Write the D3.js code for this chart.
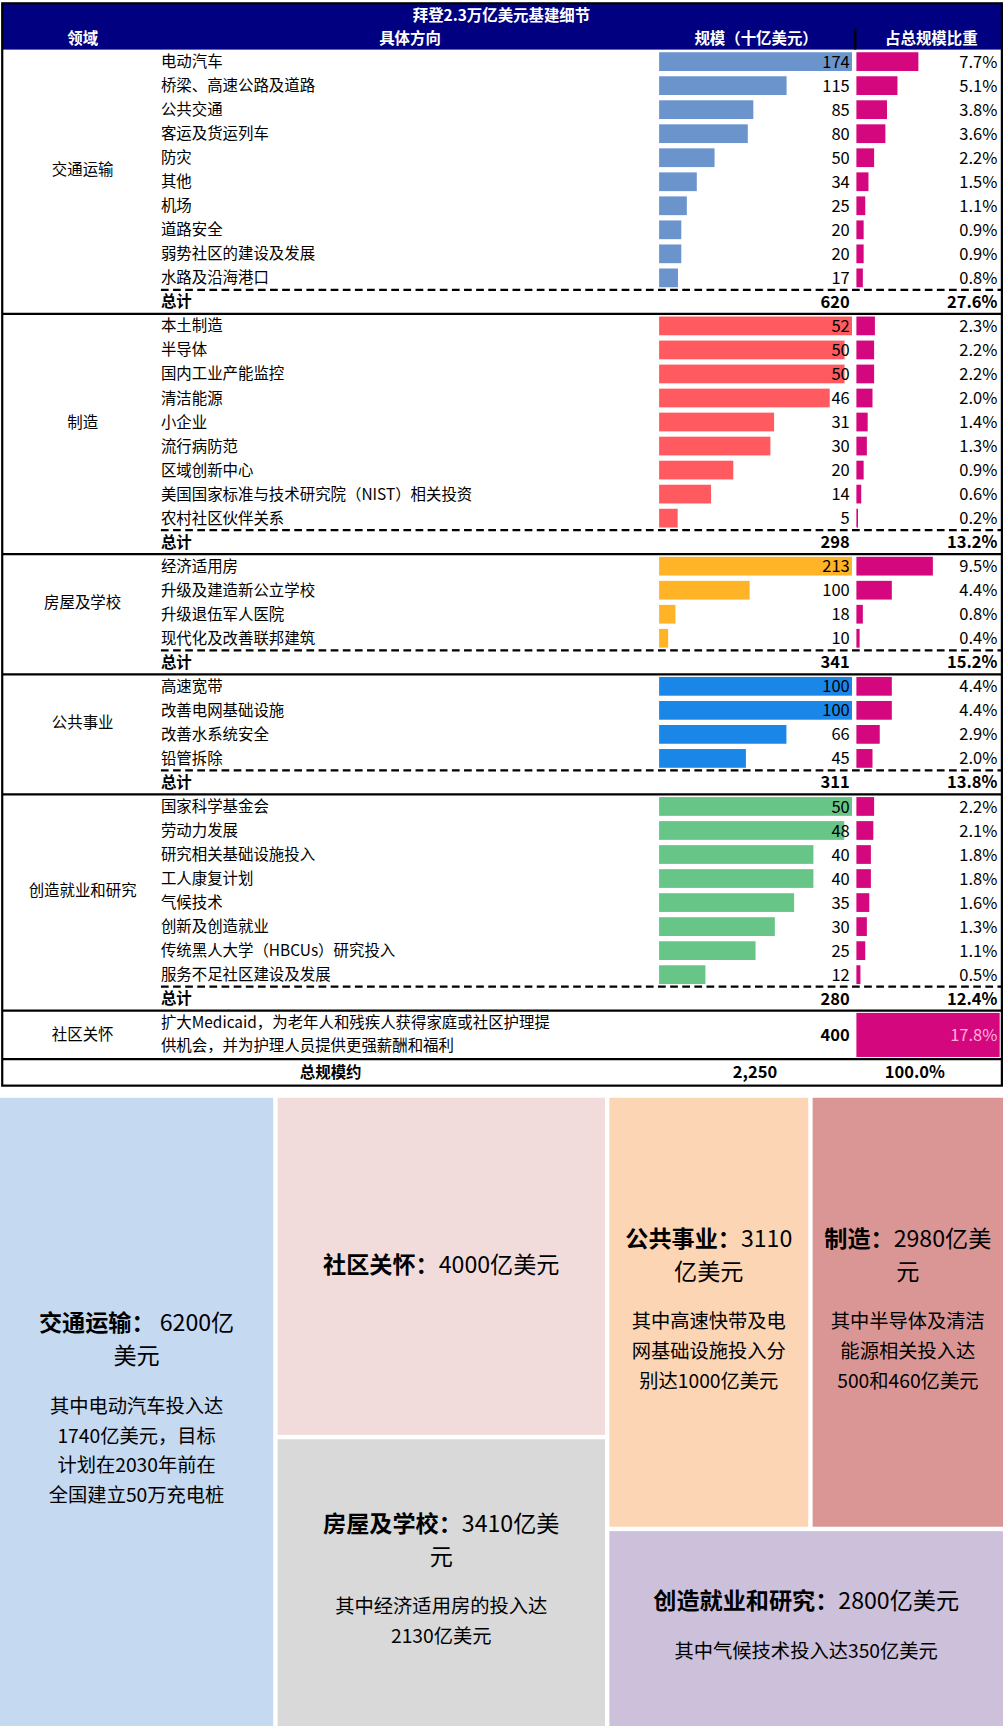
<!DOCTYPE html>
<html><head><meta charset="utf-8">
<script src="https://cdn.jsdelivr.net/npm/d3@7"></script>
<style>body{margin:0;background:#fff}svg text{font-family:"Noto Sans CJK SC","Liberation Sans",sans-serif}</style>
</head><body><svg id="chart" width="1003" height="1726" viewBox="0 0 910 1566"></svg>
<script>
// table data
const groupNames = ["交通运输", "制造", "房屋及学校", "公共事业", "创造就业和研究"];
const groupColors = ["#6b94cd", "#ff5a5f", "#ffb327", "#1a86e8", "#66c587"];
const groupItems = [
	["电动汽车", "桥梁、高速公路及道路", "公共交通", "客运及货运列车", "防灾", "其他", "机场", "道路安全", "弱势社区的建设及发展", "水路及沿海港口"],
	["本土制造", "半导体", "国内工业产能监控", "清洁能源", "小企业", "流行病防范", "区域创新中心", "美国国家标准与技术研究院（NIST）相关投资", "农村社区伙伴关系"],
	["经济适用房", "升级及建造新公立学校", "升级退伍军人医院", "现代化及改善联邦建筑"],
	["高速宽带", "改善电网基础设施", "改善水系统安全", "铅管拆除"],
	["国家科学基金会", "劳动力发展", "研究相关基础设施投入", "工人康复计划", "气候技术", "创新及创造就业", "传统黑人大学（HBCUs）研究投入", "服务不足社区建设及发展"],
];
const groupValues = [
	[174, 115, 85, 80, 50, 34, 25, 20, 20, 17],
	[52, 50, 50, 46, 31, 30, 20, 14, 5],
	[213, 100, 18, 10],
	[100, 100, 66, 45],
	[50, 48, 40, 40, 35, 30, 25, 12],
];
const groupPcts = [
	[7.7, 5.1, 3.8, 3.6, 2.2, 1.5, 1.1, 0.9, 0.9, 0.8],
	[2.3, 2.2, 2.2, 2.0, 1.4, 1.3, 0.9, 0.6, 0.2],
	[9.5, 4.4, 0.8, 0.4],
	[4.4, 4.4, 2.9, 2.0],
	[2.2, 2.1, 1.8, 1.8, 1.6, 1.3, 1.1, 0.5],
];
const groupTotals = ["620", "298", "341", "311", "280"];
const groupTotalPcts = ["27.6%", "13.2%", "15.2%", "13.8%", "12.4%"];
const careLines = ["扩大Medicaid，为老年人和残疾人获得家庭或社区护理提", "供机会，并为护理人员提供更强薪酬和福利"];
const careValue = 400, carePct = 17.8;

// treemap data
const tileNames = ["交通运输", "社区关怀", "房屋及学校", "公共事业", "制造", "创造就业和研究"];
const tileValues = [620, 400, 341, 311, 298, 280];
const tileColors = ["#c5d9f1", "#f2dcdb", "#d9d9d9", "#fcd5b4", "#da9694", "#ccc0da"];
const tileTitles = [
	[["交通运输：", " 6200亿"], ["", "美元"]],
	[["社区关怀：", "4000亿美元"]],
	[["房屋及学校：", "3410亿美"], ["", "元"]],
	[["公共事业：", "3110"], ["", "亿美元"]],
	[["制造：", "2980亿美"], ["", "元"]],
	[["创造就业和研究：", "2800亿美元"]],
];
const tileDescs = [
	["其中电动汽车投入达", "1740亿美元，目标", "计划在2030年前在", "全国建立50万充电桩"],
	[],
	["其中经济适用房的投入达", "2130亿美元"],
	["其中高速快带及电", "网基础设施投入分", "别达1000亿美元"],
	["其中半导体及清洁", "能源相关投入达", "500和460亿美元"],
	["其中气候技术投入达350亿美元"],
];

const svg = d3.select("#chart");
const rowH = 21.8, top0 = 45;
const px = d3.scaleLinear().domain([0, 17.8]).range([777, 907]);
const pctColor = "#d4077f";

// header
svg.append("rect").attr("x", 2).attr("y", 3).attr("width", 907).attr("height", top0 - 3).attr("fill", "#000080");
svg.append("text").attr("x", 455).attr("y", 19).attr("text-anchor", "middle").attr("fill", "#fff").attr("font-size", 14).attr("font-weight", "bold").text("拜登2.3万亿美元基建细节");
[["领域", 75], ["具体方向", 372], ["规模（十亿美元）", 686], ["占总规模比重", 845]].forEach(([t, cx]) => {
	svg.append("text").attr("x", cx).attr("y", 40).attr("text-anchor", "middle").attr("fill", "#fff").attr("font-size", 14).attr("font-weight", "bold").text(t);
});
svg.append("line").attr("x1", 776).attr("x2", 776).attr("y1", 26).attr("y2", 45).attr("stroke", "#000").attr("stroke-width", 2);

let y = top0;
const g = svg.append("g");
groupNames.forEach((name, gi) => {
	const y0 = y;
	const items = groupItems[gi];
	// each group's bars are scaled to its own largest item
	const x = d3.scaleLinear().domain([0, d3.max(groupValues[gi])]).range([598, 773]);
	items.forEach((it, i) => {
		const cy = y + rowH / 2;
		g.append("text").attr("x", 146).attr("y", cy + 5).attr("font-size", 14).text(it);
		const v = groupValues[gi][i];
		g.append("rect").attr("x", x(0)).attr("y", cy - 8.5).attr("width", x(v) - x(0)).attr("height", 17).attr("fill", groupColors[gi]);
		g.append("text").attr("x", 771).attr("y", cy + 5.5).attr("text-anchor", "end").attr("font-size", 15).attr("font-family", "Liberation Sans").text(v);
		const p = groupPcts[gi][i];
		g.append("rect").attr("x", px(0)).attr("y", cy - 8.5).attr("width", px(p) - px(0)).attr("height", 17).attr("fill", pctColor);
		g.append("text").attr("x", 905).attr("y", cy + 5.5).attr("text-anchor", "end").attr("font-size", 15).attr("font-family", "Liberation Sans").text(p.toFixed(1) + "%");
		y += rowH;
	});
	g.append("text").attr("x", 75).attr("y", (y0 + y) / 2 + 5).attr("text-anchor", "middle").attr("font-size", 14).text(name);
	g.append("line").attr("x1", 146).attr("x2", 909).attr("y1", y).attr("y2", y).attr("stroke", "#000").attr("stroke-width", 2).attr("stroke-dasharray", "7,4");
	const cy = y + rowH / 2;
	g.append("text").attr("x", 146).attr("y", cy + 5).attr("font-size", 14).attr("font-weight", "bold").text("总计");
	g.append("text").attr("x", 771).attr("y", cy + 5.5).attr("text-anchor", "end").attr("font-size", 15).attr("font-weight", "bold").attr("font-family", "Liberation Sans").text(groupTotals[gi]);
	g.append("text").attr("x", 905).attr("y", cy + 5.5).attr("text-anchor", "end").attr("font-size", 15).attr("font-weight", "bold").attr("font-family", "Liberation Sans").text(groupTotalPcts[gi]);
	y += rowH;
	g.append("line").attr("x1", 2).attr("x2", 909).attr("y1", y).attr("y2", y).attr("stroke", "#000").attr("stroke-width", 2);
});

// community care row
const careY = y, careH = 44;
g.append("text").attr("x", 75).attr("y", careY + careH / 2 + 5).attr("text-anchor", "middle").attr("font-size", 14).text("社区关怀");
careLines.forEach((l, i) => g.append("text").attr("x", 146).attr("y", careY + 16 + i * 21).attr("font-size", 14).text(l));
g.append("text").attr("x", 771).attr("y", careY + careH / 2 + 5.5).attr("text-anchor", "end").attr("font-size", 15).attr("font-weight", "bold").attr("font-family", "Liberation Sans").text(careValue);
g.append("rect").attr("x", px(0)).attr("y", careY + 2).attr("width", px(carePct) - px(0)).attr("height", careH - 4).attr("fill", pctColor);
g.append("text").attr("x", 905).attr("y", careY + careH / 2 + 5.5).attr("text-anchor", "end").attr("font-size", 15).attr("fill", "#ffb0d8").attr("font-family", "Liberation Sans").text(carePct.toFixed(1) + "%");
y += careH;
g.append("line").attr("x1", 2).attr("x2", 909).attr("y1", y).attr("y2", y).attr("stroke", "#000").attr("stroke-width", 2);
const totY = y + 17;
g.append("text").attr("x", 300).attr("y", totY).attr("text-anchor", "middle").attr("font-size", 14).attr("font-weight", "bold").text("总规模约");
g.append("text").attr("x", 685).attr("y", totY).attr("text-anchor", "middle").attr("font-size", 15).attr("font-weight", "bold").attr("font-family", "Liberation Sans").text("2,250");
g.append("text").attr("x", 830).attr("y", totY).attr("text-anchor", "middle").attr("font-size", 15).attr("font-weight", "bold").attr("font-family", "Liberation Sans").text("100.0%");
y += 24;
svg.append("rect").attr("x", 2).attr("y", 3).attr("width", 907).attr("height", y - 3).attr("fill", "none").attr("stroke", "#000").attr("stroke-width", 2);

// treemap
const leaf = (i) => ({ i, value: tileValues[i] });
const tree = { children: [leaf(0), { children: [leaf(1), leaf(2)] }, { children: [{ children: [leaf(3), leaf(4)] }, leaf(5)] }] };
const root = d3.hierarchy(tree).sum((d) => d.value || 0);
d3.treemap().tile(d3.treemapSliceDice).size([910, 1566 - 996]).paddingInner(4)(root);
const tg = svg.append("g").attr("transform", "translate(0,996)");
root.leaves().forEach((d) => {
	const i = d.data.i;
	tg.append("rect").attr("x", d.x0).attr("y", d.y0).attr("width", d.x1 - d.x0).attr("height", d.y1 - d.y0).attr("fill", tileColors[i]);
	const cx = (d.x0 + d.x1) / 2;
	const titles = tileTitles[i], descs = tileDescs[i];
	const tLH = 30, dLH = 27, gap = descs.length ? 20 : 0;
	const blockH = titles.length * tLH + gap + descs.length * dLH;
	let ty = (d.y0 + d.y1) / 2 - blockH / 2 + 21;
	titles.forEach(([b, r]) => {
		const t = tg.append("text").attr("x", cx).attr("y", ty).attr("text-anchor", "middle").attr("font-size", 21);
		if (b) t.append("tspan").attr("font-weight", "bold").text(b);
		t.append("tspan").text(r);
		ty += tLH;
	});
	ty += gap - 6;
	descs.forEach((l) => {
		tg.append("text").attr("x", cx).attr("y", ty).attr("text-anchor", "middle").attr("font-size", 17.5).text(l);
		ty += dLH;
	});
});
</script></body></html>
